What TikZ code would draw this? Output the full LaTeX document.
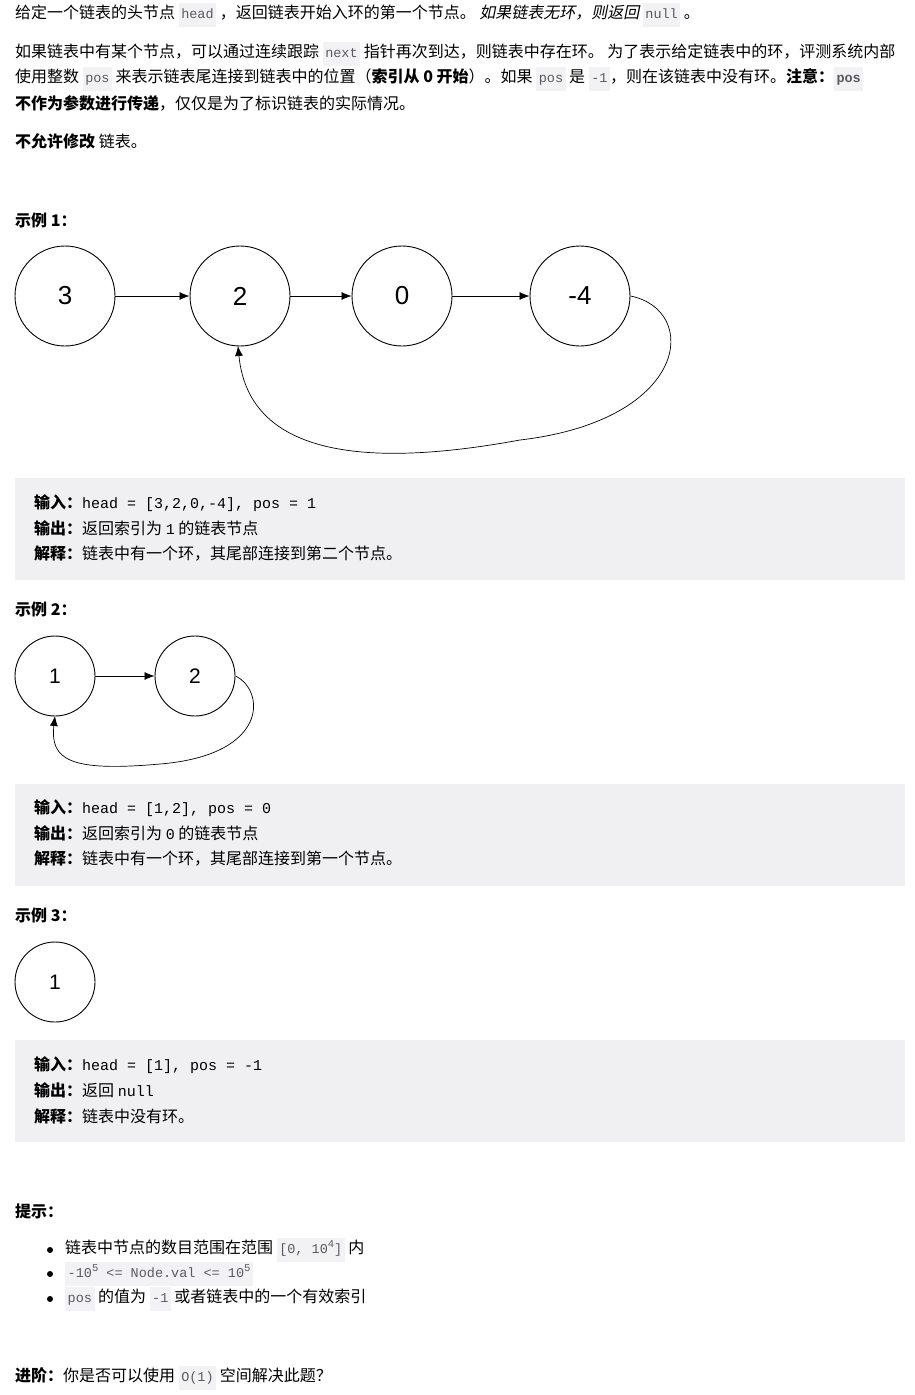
\documentclass[tikz,border=0pt]{standalone}
\usepackage{fontspec}
\setmainfont{Noto Sans CJK SC}
\newfontfamily\itcjk[FakeSlant=0.2]{Noto Sans CJK SC}
\setmonofont{Liberation Mono}
\newfontfamily\digitfont{Liberation Sans}
\usepackage{xcolor}
\usetikzlibrary{positioning,arrows.meta}
\definecolor{codebg}{rgb}{0.95,0.95,0.96}
\definecolor{boxbg}{rgb}{0.94,0.94,0.95}
\definecolor{codefg}{rgb}{0.35,0.35,0.38}
\newcommand{\icode}[1]{{\setlength{\fboxsep}{2.5pt}\colorbox{codebg}{\strut\ttfamily\fontsize{13.5}{15}\selectfont\color{codefg}#1}}}
\newcommand{\boxcode}[1]{{\ttfamily\fontsize{15}{17}\selectfont #1}}
\newcommand{\upsc}[1]{\raisebox{0.45em}{\fontsize{10.5}{12}\selectfont #1}}
\tikzset{
  txt/.style={anchor=west,inner sep=0pt,font=\fontsize{16}{19}\selectfont},
  listnode/.style={circle,draw,line width=0.9pt,minimum size=#1,font=\digitfont\fontsize{26}{30}\selectfont},
  listnode/.default=100pt,
  nextarrow/.style={-{Latex[length=10pt,width=8pt]},line width=0.7pt},
  codebox/.style={fill=boxbg,draw=none}
}
\begin{document}
\begin{tikzpicture}[x=1pt,y=-1pt]
\useasboundingbox (0,0) rectangle (915,1395);

% Text Node
\node[txt] (t1) at (15,15) {给定一个链表的头节点 \icode{head} ，返回链表开始入环的第一个节点。 {\itcjk 如果链表无环，则返回} \icode{null} 。};
\node[txt] (t2) at (15,54) {如果链表中有某个节点，可以通过连续跟踪 \icode{next} 指针再次到达，则链表中存在环。 为了表示给定链表中的环，评测系统内部};
\node[txt] (t3) at (15,79) {使用整数 \icode{pos} 来表示链表尾连接到链表中的位置（\textbf{索引从 0 开始}）。如果 \icode{pos} 是 \icode{-1}，则在该链表中没有环。\textbf{注意：}\icode{\textbf{pos}}};
\node[txt] (t4) at (15,103) {\textbf{不作为参数进行传递}，仅仅是为了标识链表的实际情况。};
\node[txt] (t5) at (15,141) {\textbf{不允许修改} 链表。};

% Example 1
\node[txt] (ex1) at (15,220) {\textbf{示例 1：}};
\node[listnode] (a) at (65,296) {3};
\node[listnode] (b) at (240,296) {2};
\node[listnode] (c) at (402,296) {0};
\node[listnode] (d) at (580,296) {-4};
\draw[nextarrow] (a) -- (b);
\draw[nextarrow] (b) -- (c);
\draw[nextarrow] (c) -- (d);
\draw[nextarrow] (d.east) .. controls (700,310) and (690,420) .. (520,440)
  .. controls (400,462) and (250,470) .. (238,346);

\fill[codebox] (15,478) rectangle (905,580);
\node[txt] (in1) at (34,503) {\textbf{输入：}\boxcode{head = [3,2,0,-4], pos = 1}};
\node[txt] (out1) at (34,528) {\textbf{输出：}返回索引为 \boxcode{1} 的链表节点};
\node[txt] (ex1e) at (34,553) {\textbf{解释：}链表中有一个环，其尾部连接到第二个节点。};

% Example 2
\node[txt] (ex2) at (15,609) {\textbf{示例 2：}};
\node[listnode=80pt,font=\digitfont\fontsize{21}{24}\selectfont] (e) at (55,676) {1};
\node[listnode=80pt,font=\digitfont\fontsize{21}{24}\selectfont] (f) at (195,676) {2};
\draw[nextarrow] (e) -- (f);
\draw[nextarrow] (f.east) .. controls (265,690) and (270,755) .. (160,764)
  .. controls (70,772) and (50,760) .. (55,716);

\fill[codebox] (15,784) rectangle (905,886);
\node[txt] (in2) at (34,808) {\textbf{输入：}\boxcode{head = [1,2], pos = 0}};
\node[txt] (out2) at (34,833) {\textbf{输出：}返回索引为 \boxcode{0} 的链表节点};
\node[txt] (ex2e) at (34,858) {\textbf{解释：}链表中有一个环，其尾部连接到第一个节点。};

% Example 3
\node[txt] (ex3) at (15,915) {\textbf{示例 3：}};
\node[listnode=80pt,font=\digitfont\fontsize{21}{24}\selectfont] (g) at (55,982) {1};

\fill[codebox] (15,1040) rectangle (905,1142);
\node[txt] (in3) at (34,1065) {\textbf{输入：}\boxcode{head = [1], pos = -1}};
\node[txt] (out3) at (34,1090) {\textbf{输出：}返回 \boxcode{null}};
\node[txt] (ex3e) at (34,1116) {\textbf{解释：}链表中没有环。};

% Hints
\node[txt] (hint) at (15,1211) {\textbf{提示：}};
\foreach \yy in {1250,1274,1299} \fill (50,\yy) circle (3pt);
\node[txt] (h1) at (65,1250) {链表中节点的数目范围在范围 \icode{[0, 10\upsc{4}]} 内};
\node[txt] (h2) at (65,1274) {\icode{-10\upsc{5} <= Node.val <= 10\upsc{5}}};
\node[txt] (h3) at (65,1299) {\icode{pos} 的值为 \icode{-1} 或者链表中的一个有效索引};

\node[txt] (adv) at (15,1378) {\textbf{进阶：}你是否可以使用 \icode{O(1)} 空间解决此题？};
\end{tikzpicture}
\end{document}
